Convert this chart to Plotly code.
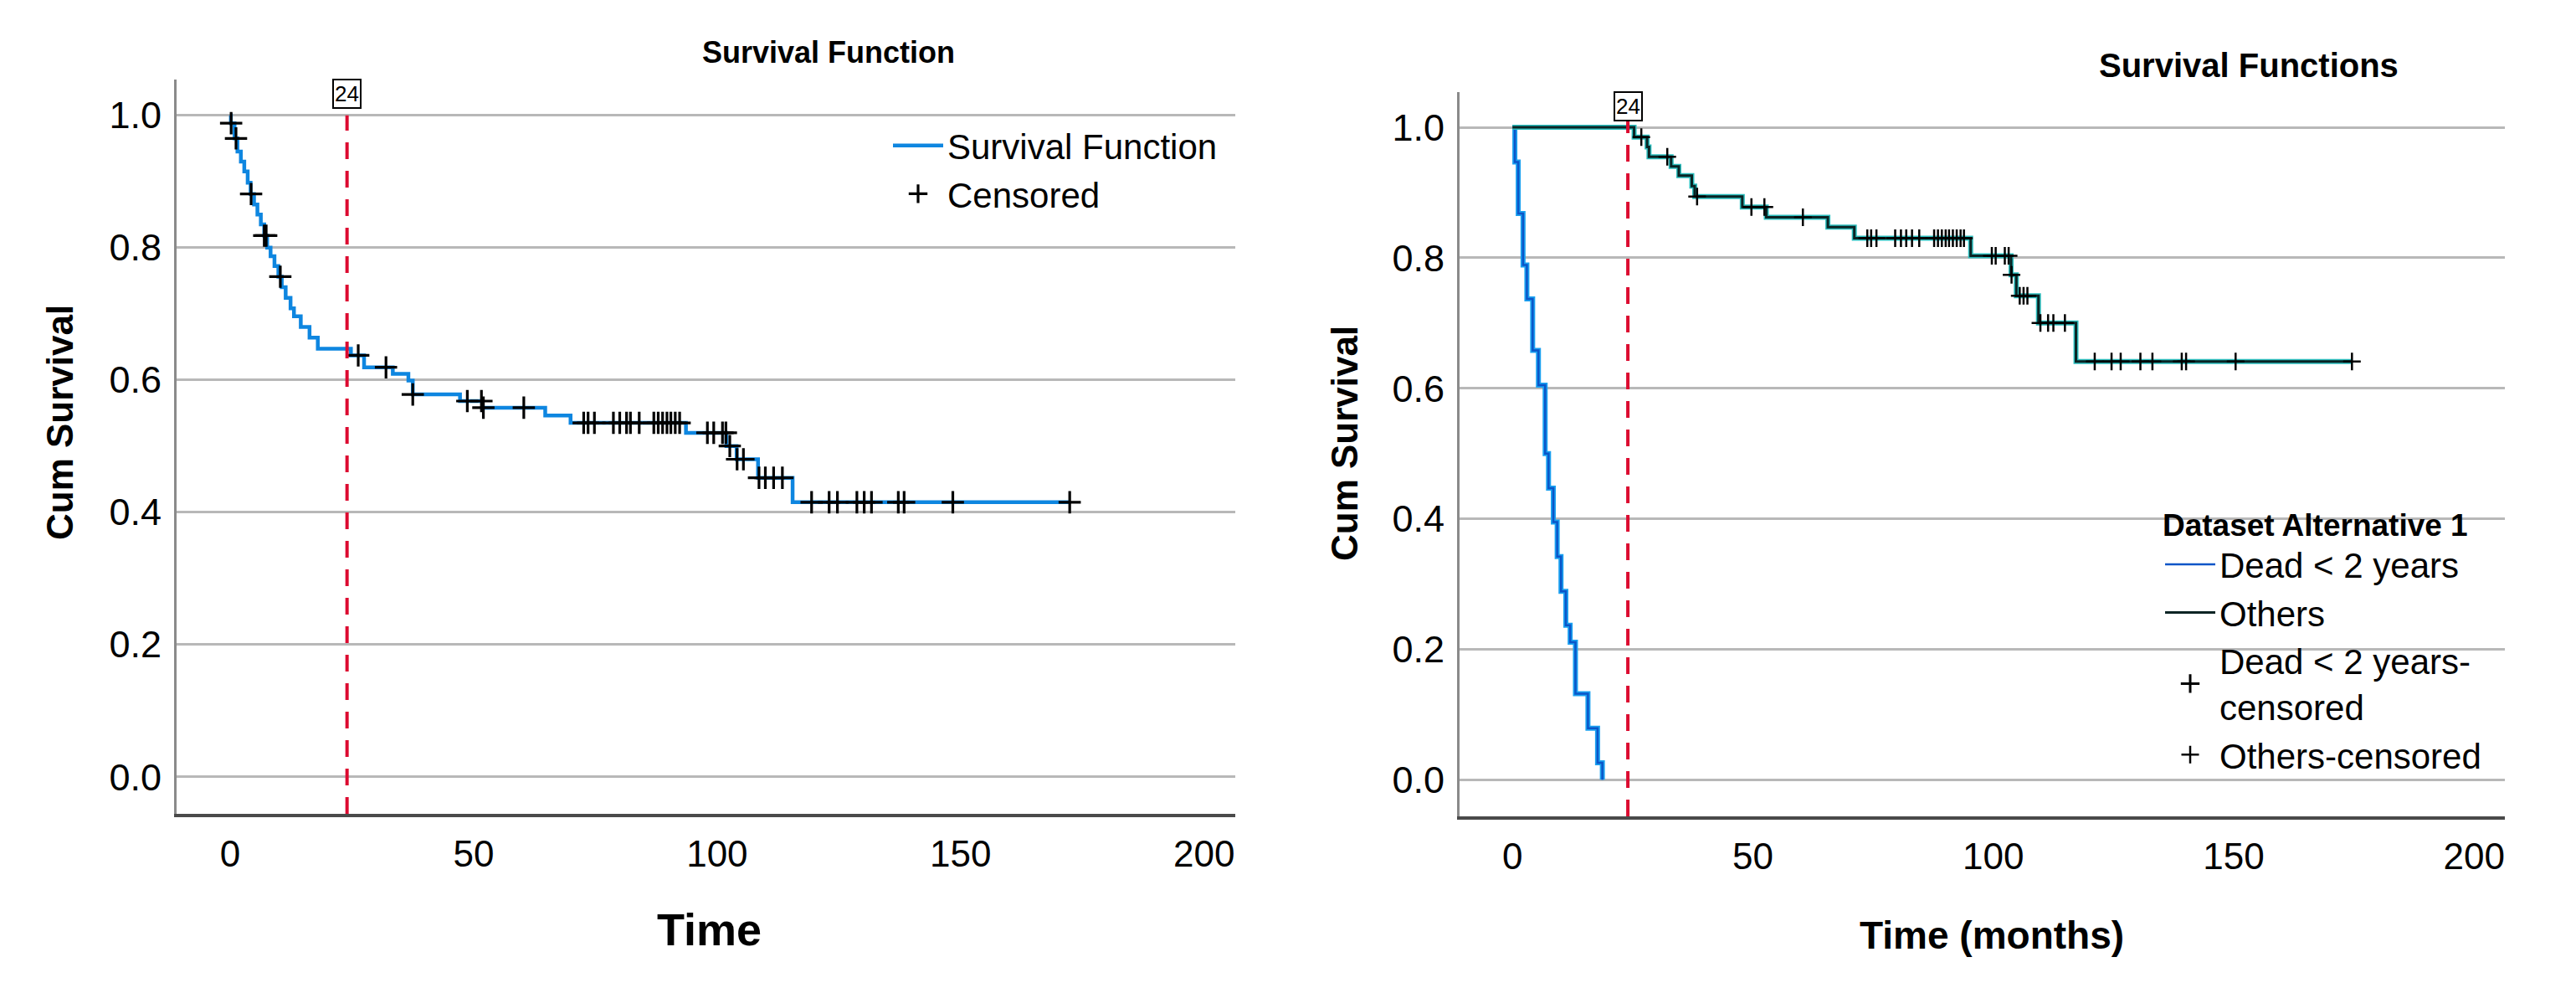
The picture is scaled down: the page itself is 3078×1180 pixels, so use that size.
import plotly.graph_objects as go
from bisect import bisect_right

# ---------------- data ----------------
# Left panel: overall Kaplan-Meier step function
left_step_t = [0.0, 0.15, 0.9, 1.5, 2.2, 2.9, 3.6, 4.2, 4.9, 5.6, 6.3, 7.0, 7.6, 8.3, 9.1, 9.9,
               10.6, 11.4, 12.4, 13.1, 14.5, 16.3, 18.0, 24.8, 27.5, 33.4, 36.6, 37.5, 47.2,
               51.8, 64.7, 69.9, 93.6, 101.9, 104.0, 108.4, 115.5, 172.4]
left_step_s = [1.0, 0.988, 0.965, 0.945, 0.930, 0.915, 0.898, 0.881, 0.865, 0.850, 0.835,
               0.818, 0.800, 0.787, 0.772, 0.756, 0.740, 0.724, 0.708, 0.696, 0.680, 0.664,
               0.647, 0.637, 0.619, 0.609, 0.599, 0.578, 0.568, 0.558, 0.546, 0.535, 0.520,
               0.500, 0.480, 0.452, 0.415, 0.415]
left_cens_t = [0.2, 1.2, 4.3, 7.0, 7.4, 10.3, 26.3, 32.0, 37.5, 48.7, 51.6, 52.0, 60.3, 72.6,
               73.5, 74.8, 78.7, 80.0, 81.4, 82.2, 84.0, 87.0, 87.9, 88.8, 89.7, 90.5, 91.4,
               92.3, 98.0, 99.3, 101.1, 101.8, 102.6, 104.1, 105.4, 108.6, 109.9, 111.6, 113.4,
               119.4, 123.0, 124.7, 128.7, 130.2, 131.7, 137.2, 138.4, 148.4, 172.4]

# Right panel: groups
dead_t = [0.0, 0.5, 1.2, 2.2, 3.0, 4.2, 5.4, 6.8, 7.5, 8.5, 9.3, 10.1, 11.1, 12.0, 13.1, 15.7, 17.7, 18.7]
dead_s = [1.0, 0.947, 0.868, 0.789, 0.737, 0.658, 0.605, 0.500, 0.447, 0.395, 0.342, 0.289,
          0.237, 0.211, 0.132, 0.079, 0.026, 0.0]

others_t = [0.0, 25.3, 28.0, 28.4, 33.0, 34.6, 37.3, 37.9, 47.8, 52.8, 65.6, 71.1, 95.3,
            103.7, 104.8, 109.4, 117.2, 174.6]
others_s = [1.0, 0.985, 0.970, 0.955, 0.940, 0.926, 0.910, 0.894, 0.878, 0.862, 0.847, 0.830,
            0.803, 0.774, 0.742, 0.700, 0.641, 0.641]
others_cens_t = [26.8, 32.2, 38.4, 49.7, 52.4, 60.4, 73.8, 74.6, 75.7, 79.6, 80.8, 81.9, 83.1,
                 84.6, 87.7, 88.5, 89.3, 90.1, 90.8, 91.6, 92.4, 93.2, 93.9, 99.7, 100.5, 102.4,
                 103.2, 103.8, 105.5, 106.3, 107.1, 109.8, 111.4, 112.5, 114.9, 121.1, 124.6,
                 126.5, 130.6, 133.1, 139.2, 140.1, 150.4, 174.6]

cutoff_month = 24
y_ticks = [0.0, 0.2, 0.4, 0.6, 0.8, 1.0]
x_ticks = [0, 50, 100, 150, 200]


def surv_at(ts, ss, t):
    i = bisect_right(ts, t) - 1
    return ss[max(i, 0)]


left_cens_s = [surv_at(left_step_t, left_step_s, t) for t in left_cens_t]
others_cens_s = [surv_at(others_t, others_s, t) for t in others_cens_t]

FONT = "Liberation Sans, Arial, sans-serif"
W, H = 3078, 1180

fig = go.Figure()

# left panel
fig.add_trace(go.Scatter(x=left_step_t, y=left_step_s, mode="lines",
                         line=dict(shape="hv", color="#0e86e0", width=4.5),
                         name="Survival Function", legend="legend", xaxis="x", yaxis="y"))
fig.add_trace(go.Scatter(x=left_cens_t, y=left_cens_s, mode="markers",
                         marker=dict(symbol="cross-thin", size=19, color="black",
                                     line=dict(width=3.2, color="black")),
                         name="Censored", legend="legend", xaxis="x", yaxis="y"))

# right panel
fig.add_trace(go.Scatter(x=dead_t, y=dead_s, mode="lines",
                         line=dict(shape="hv", color="#1aa0f0", width=6),
                         showlegend=False, hoverinfo="skip", xaxis="x2", yaxis="y2"))
fig.add_trace(go.Scatter(x=dead_t, y=dead_s, mode="lines",
                         line=dict(shape="hv", color="#0b55c8", width=2.5),
                         name="Dead &lt; 2 years", legend="legend2", xaxis="x2", yaxis="y2"))
fig.add_trace(go.Scatter(x=others_t, y=others_s, mode="lines",
                         line=dict(shape="hv", color="#2bbdbd", width=6),
                         showlegend=False, hoverinfo="skip", xaxis="x2", yaxis="y2"))
fig.add_trace(go.Scatter(x=others_t, y=others_s, mode="lines",
                         line=dict(shape="hv", color="#0a2424", width=3),
                         name="Others", legend="legend2", xaxis="x2", yaxis="y2"))
fig.add_trace(go.Scatter(x=[None], y=[None], mode="markers",
                         marker=dict(symbol="cross-thin", size=18, color="black",
                                     line=dict(width=3, color="black")),
                         name="Dead &lt; 2 years-<br>censored", legend="legend2",
                         xaxis="x2", yaxis="y2"))
fig.add_trace(go.Scatter(x=others_cens_t, y=others_cens_s, mode="markers",
                         marker=dict(symbol="cross-thin", size=15, color="black",
                                     line=dict(width=2.5, color="black")),
                         name="Others-censored", legend="legend2", xaxis="x2", yaxis="y2"))

yr = [-0.056, 1.054]
xr = [-11, 206.4]

common_x = dict(range=xr, tickvals=x_ticks, showgrid=False, zeroline=False,
                showline=True, linecolor="#4a4a4a", linewidth=4, ticks="",
                tickfont=dict(family=FONT, size=44, color="black"), ticklabelstandoff=6)
common_y = dict(range=yr, tickvals=y_ticks, tickformat=".1f", showgrid=True,
                gridcolor="#b8b8b8", gridwidth=3, zeroline=False, showline=True,
                linecolor="#8a8a8a", linewidth=3, ticks="",
                tickfont=dict(family=FONT, size=45, color="black"), ticklabelstandoff=6)

fig.update_layout(
    width=W, height=H, margin=dict(l=0, r=0, t=0, b=0),
    paper_bgcolor="white", plot_bgcolor="white",
    xaxis=dict(domain=[211 / W, 1476 / W], anchor="y", **common_x),
    yaxis=dict(domain=[1 - 972 / H, 1 - 95 / H], anchor="x", **common_y),
    xaxis2=dict(domain=[1744 / W, 2993 / W], anchor="y2", **common_x),
    yaxis2=dict(domain=[1 - 975 / H, 1 - 110 / H], anchor="x2", **common_y),
    legend=dict(x=1062 / W, y=1 - 140 / H, xanchor="left", yanchor="top",
                bgcolor="rgba(0,0,0,0)", font=dict(family=FONT, size=42, color="black"),
                itemwidth=60, tracegroupgap=0),
    legend2=dict(x=2582 / W, y=1 - 592 / H, xanchor="left", yanchor="top",
                 bgcolor="rgba(0,0,0,0)", font=dict(family=FONT, size=42, color="black"),
                 itemwidth=60, tracegroupgap=0,
                 title=dict(text="<b>Dataset Alternative 1</b>",
                            font=dict(family=FONT, size=37, color="black"))),
    showlegend=True,
)

# cutoff lines at 24 months
fig.add_shape(type="line", xref="x", yref="y", x0=cutoff_month, x1=cutoff_month,
              y0=yr[0], y1=1.0, line=dict(color="#dc0a30", width=4, dash="20px,14px"))
fig.add_shape(type="line", xref="x2", yref="y2", x0=cutoff_month, x1=cutoff_month,
              y0=yr[0], y1=1.012, line=dict(color="#dc0a30", width=4, dash="20px,14px"))
for xref, yref in (("x", "y"), ("x2", "y2")):
    fig.add_annotation(x=cutoff_month, y=1.032, xref=xref, yref=yref, text=str(cutoff_month),
                       showarrow=False, font=dict(family=FONT, size=26, color="black"),
                       bordercolor="black", borderwidth=2, borderpad=1, bgcolor="white")


def label(x, y, text, size, angle=0):
    fig.add_annotation(x=x / W, y=1 - y / H, xref="paper", yref="paper",
                       xanchor="center", yanchor="middle", textangle=angle,
                       text=text, showarrow=False,
                       font=dict(family=FONT, size=size, color="black"))


# titles
label(990, 63, "<b>Survival Function</b>", 36)
label(2687, 78, "<b>Survival Functions</b>", 40)
# axis titles
label(72, 505, "<b>Cum Survival</b>", 44, -90)
label(1606, 530, "<b>Cum Survival</b>", 44, -90)
label(847, 1110, "<b>Time</b>", 54)
label(2380, 1117, "<b>Time (months)</b>", 46)

fig.write_html("out.html")
